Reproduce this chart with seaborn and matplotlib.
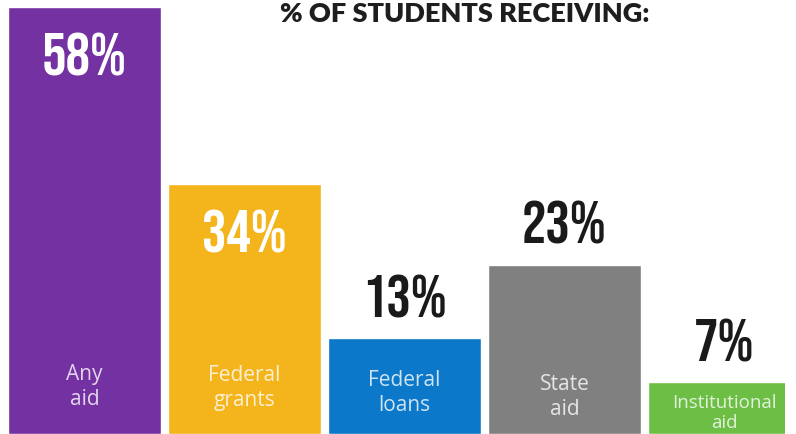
import matplotlib
matplotlib.use("Agg")
import matplotlib.pyplot as plt
import seaborn as sns
import pandas as pd

categories = ["Any\naid", "Federal\ngrants", "Federal\nloans", "State\naid", "Institutional\naid"]
values = [58, 34, 13, 23, 7]
colors = ["#7331A1", "#F3B41C", "#0B78C9", "#808080", "#6DBE45"]
title = "% OF STUDENTS RECEIVING:"

# layout only: which numbers sit inside the bar, where the category text goes (px from bottom), its size
label_inside = [True, True, False, False, False]
cat_label_px = [48, 47, 42, 38, 22]
cat_label_size = [15, 15, 15, 15, 13.5]

sns.set_theme(style="white")

df = pd.DataFrame({"category": categories, "value": values})

fig = plt.figure(figsize=(7.96, 4.35), dpi=100)
ax = fig.add_axes([8 / 796, 0, 777 / 796, 1])

sns.barplot(data=df, x="category", y="value", hue="category", palette=colors,
            width=0.955, legend=False, saturation=1, ax=ax)

px_per_unit = 7.36
ax.set_ylim(0, 435 / px_per_unit)
ax.set_xlim(-0.4775, -0.4775 + 777 / 160)
ax.set_axis_off()

num_font = ["Bebas Neue", "DejaVu Sans"]
num_style = dict(ha="center", va="baseline", fontsize=44, fontweight="bold",
                 fontstretch="condensed", family=num_font, textcoords="offset points")

for i, (v, inside) in enumerate(zip(values, label_inside)):
    if inside:
        ax.annotate(f"{v}%", (i, v), xytext=(0, -48.5), color="white", **num_style)
    else:
        ax.annotate(f"{v}%", (i, v), xytext=(0, 16), color="#1a1a1a", **num_style)
    ax.text(i, cat_label_px[i] / px_per_unit, categories[i], ha="center", va="center",
            fontsize=cat_label_size[i], color="white", alpha=0.8, family="Open Sans",
            linespacing=1.2)

fig.text(465 / 796, 1 - 14 / 435, title, ha="center", va="center",
         fontsize=19.5, fontweight="heavy", family="Lato", color="#1e1e1e")

fig.savefig("out.png", dpi=100)
